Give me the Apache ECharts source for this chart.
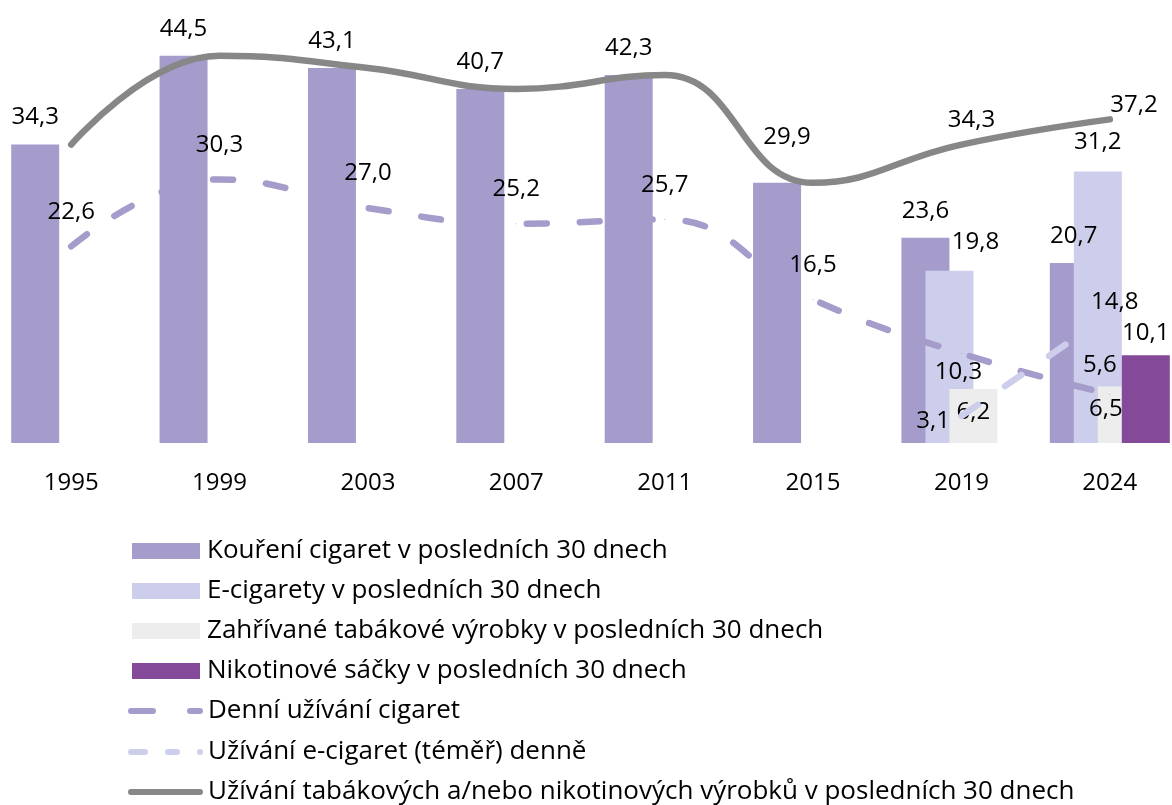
<!DOCTYPE html>
<html>
<head>
<meta charset="utf-8">
<script src="https://cdn.jsdelivr.net/npm/echarts@6/dist/echarts.min.js"></script>
<style>
  html, body { margin: 0; padding: 0; background: #ffffff; overflow: hidden; width: 1172px; height: 805px; }
  #chart { position: absolute; left: -3px; top: 0; width: 1187px; height: 805px; }
</style>
</head>
<body>
<div id="chart"></div>
<script>
// ---- data ----
var categories = ['1995', '1999', '2003', '2007', '2011', '2015', '2019', '2024'];
var smokingCig30 = [34.3, 44.5, 43.1, 40.7, 42.3, 29.9, 23.6, 20.7];
var eCig30 = [null, null, null, null, null, null, 19.8, 31.2];
var heatedTobacco30 = [null, null, null, null, null, null, 6.2, 6.5];
var nicotinePouches30 = [null, null, null, null, null, null, null, 10.1];
var dailyCig = [22.6, 30.3, 27.0, 25.2, 25.7, 16.5, 10.3, 5.6];
var dailyECig = [null, null, null, null, null, null, 3.1, 14.8];
var anyProduct30 = [34.3, 44.5, 43.1, 40.7, 42.3, 29.9, 34.3, 37.2];

var names = [
  'Kouření cigaret v posledních 30 dnech',
  'E-cigarety v posledních 30 dnech',
  'Zahřívané tabákové výrobky v posledních 30 dnech',
  'Nikotinové sáčky v posledních 30 dnech',
  'Denní užívání cigaret',
  'Užívání e-cigaret (téměř) denně',
  'Užívání tabákových a/nebo nikotinových výrobků v posledních 30 dnech'
];

// ---- styling ----
var FONT = '"Open Sans", "Noto Sans", sans-serif';
var FS = 24;
var LEG_FS = 26;
var C_CIG = '#A69CCB', C_ECIG = '#CDCEEB', C_HEAT = '#EDEDED', C_POUCH = '#85499A', C_ANY = '#878787';

function fmt(p) { return p.value == null ? '' : Number(p.value).toFixed(1).replace('.', ','); }

var baseLabel = { show: true, color: '#000', fontFamily: FONT, fontSize: FS, formatter: fmt };

// per-point label adjustments (index -> label options)
function withLabels(values, tweaks) {
  return values.map(function (v, i) {
    if (tweaks && tweaks[i]) return { value: v, label: tweaks[i] };
    return v;
  });
}

// legend icons for the line series (75 x 6 box)
var ICON_DASH_LONG = 'path://M3,0 L25,0 A3,3 0 0 1 25,6 L3,6 A3,3 0 0 1 3,0 Z M62,0 L72,0 A3,3 0 0 1 72,6 L62,6 A3,3 0 0 1 62,0 Z';
var ICON_DASH_SHORT = 'path://M3,0 L17,0 A3,3 0 0 1 17,6 L3,6 A3,3 0 0 1 3,0 Z M40,0 L49,0 A3,3 0 0 1 49,6 L40,6 A3,3 0 0 1 40,0 Z M72,0 A3,3 0 0 1 72,6 A3,3 0 0 1 72,0 Z';
var ICON_SOLID = 'path://M3,0 L72,0 A3,3 0 0 1 72,6 L3,6 A3,3 0 0 1 3,0 Z';

var BW = 48;
var lineSymbol = { symbol: 'circle', symbolSize: 1, showSymbol: true, showAllSymbol: true };

var legendText = { color: '#000', fontFamily: FONT, fontSize: LEG_FS, lineHeight: 26 };

function lineLegend(name, icon, top) {
  return {
    orient: 'vertical',
    left: 131, top: top, padding: 0,
    itemWidth: 75, itemHeight: 6,
    itemStyle: { borderWidth: 0 },
    textStyle: Object.assign({ padding: [0, 0, 0, 0] }, legendText),
    data: [{ name: name, icon: icon }]
  };
}

var option = {
  animation: false,
  backgroundColor: '#ffffff',
  textStyle: { fontFamily: FONT },
  grid: { left: 0, right: 0, top: 8, bottom: 362, containLabel: false },
  xAxis: {
    type: 'category',
    data: categories,
    axisLine: { show: false },
    axisTick: { show: false },
    axisLabel: { color: '#000', fontFamily: FONT, fontSize: FS, margin: 28 }
  },
  yAxis: {
    type: 'value', min: 0, max: 50,
    show: false,
    splitLine: { show: false }
  },
  legend: [
    {
      orient: 'vertical',
      left: 135, top: 538, padding: 0,
      itemWidth: 68, itemHeight: 16, itemGap: 14,
      itemStyle: { borderWidth: 0 },
      textStyle: Object.assign({ padding: [0, 0, 0, 2] }, legendText),
      data: [
        { name: names[0], icon: 'rect' },
        { name: names[1], icon: 'rect' },
        { name: names[2], icon: 'rect' },
        { name: names[3], icon: 'rect' }
      ]
    },
    lineLegend(names[4], ICON_DASH_LONG, 698),
    lineLegend(names[5], ICON_DASH_SHORT, 739),
    lineLegend(names[6], ICON_SOLID, 779)
  ],
  series: [
    {
      name: names[0], type: 'bar', barWidth: BW, barGap: '-50%',
      itemStyle: { color: C_CIG },
      label: Object.assign({}, baseLabel, { position: 'top', distance: 15 }),
      data: withLabels(smokingCig30, { 5: { offset: [10, -19] } })
    },
    {
      name: names[1], type: 'bar', barWidth: BW, barGap: '-50%',
      itemStyle: { color: C_ECIG },
      label: Object.assign({}, baseLabel, { position: 'top', distance: 17 }),
      data: withLabels(eCig30, { 6: { offset: [26, 0] } })
    },
    {
      name: names[2], type: 'bar', barWidth: BW, barGap: '-50%',
      itemStyle: { color: C_HEAT },
      label: Object.assign({}, baseLabel, { position: 'insideTop', distance: 11 }),
      data: withLabels(heatedTobacco30, { 7: { offset: [-16, 0] } })
    },
    {
      name: names[3], type: 'bar', barWidth: BW, barGap: '-50%',
      itemStyle: { color: C_POUCH },
      label: Object.assign({}, baseLabel, { position: 'top', distance: 10 }),
      data: nicotinePouches30
    },
    Object.assign({
      name: names[4], type: 'line', smooth: 0.45, z: 5,
      itemStyle: { color: C_CIG },
      lineStyle: { color: C_CIG, width: 6.5, type: [20, 33], cap: 'round' },
      label: Object.assign({}, baseLabel, { position: 'top', distance: 22 }),
      data: withLabels(dailyCig, {
        6: { position: 'bottom', distance: 6, offset: [-3, 0] },
        7: { position: 'top', distance: 17, offset: [-10, 0] }
      })
    }, lineSymbol),
    Object.assign({
      name: names[5], type: 'line', smooth: 0.45, z: 5,
      itemStyle: { color: C_ECIG },
      lineStyle: { color: C_ECIG, width: 6.5, type: [20, 33], cap: 'round' },
      label: Object.assign({}, baseLabel, { position: 'top', distance: 0 }),
      data: withLabels(dailyECig, {
        6: { position: 'left', distance: 11, offset: [0, 5] },
        7: { position: 'top', distance: 0, offset: [5, 0] }
      })
    }, lineSymbol),
    Object.assign({
      name: names[6], type: 'line', smooth: 0.45, z: 6,
      itemStyle: { color: C_ANY },
      lineStyle: { color: C_ANY, width: 6.5, cap: 'round' },
      label: Object.assign({}, baseLabel, { show: false }),
      data: withLabels(anyProduct30, {
        6: { show: true, position: 'top', distance: 12, offset: [10, 0] },
        7: { show: true, position: 'right', distance: 0, offset: [0, -14] }
      })
    }, lineSymbol)
  ]
};

var chart = echarts.init(document.getElementById('chart'), null, { renderer: 'canvas' });
chart.setOption(option);
</script>
</body>
</html>
